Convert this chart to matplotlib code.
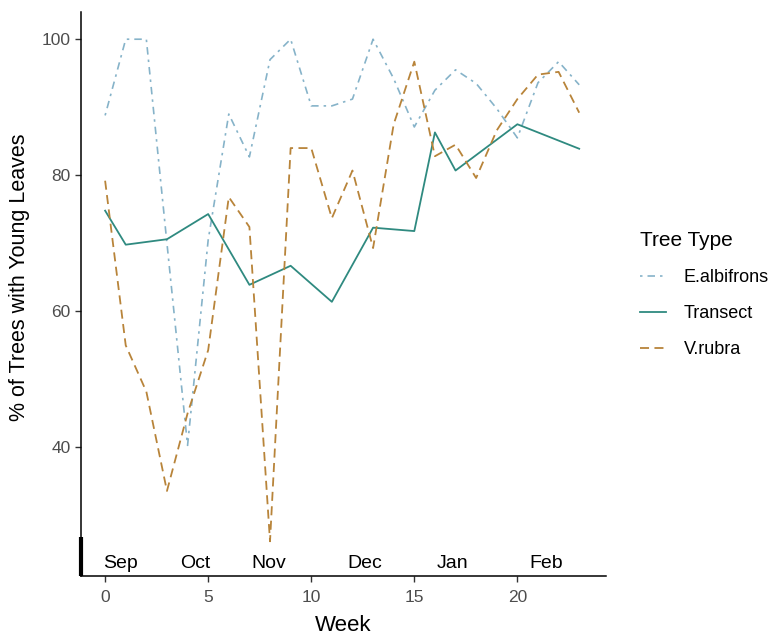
import matplotlib
matplotlib.use("Agg")
import matplotlib.pyplot as plt
from matplotlib.lines import Line2D

plt.rcParams['font.family'] = ['Liberation Sans', 'DejaVu Sans']

# E.albifrons, weekly
albi_weeks = list(range(24))
albi_vals = [88.8, 100, 100, 70, 40.3, 70.5, 89, 82.7, 97, 100, 90.2, 90.2, 91.2,
             100, 94.2, 87.1, 92.5, 95.5, 93.5, 89.8, 85.5, 93.6, 96.7, 93.3]

# Transect (sampled less often)
tran_weeks = [0, 1, 3, 5, 7, 9, 11, 13, 15, 16, 17, 20, 23]
tran_vals = [74.8, 69.8, 70.6, 74.3, 63.9, 66.7, 61.4, 72.3, 71.8, 86.3, 80.7, 87.5, 83.9]

# V.rubra, weekly
rub_weeks = list(range(24))
rub_vals = [79.2, 55.0, 48.2, 33.6, 45.0, 54.3, 76.8, 72.4, 26.2, 84.0, 84.0, 73.7,
            80.7, 69.3, 87.5, 96.7, 82.8, 84.5, 79.6, 86.6, 91.2, 94.8, 95.2, 89.2]

month_labels = ['Sep', 'Oct', 'Nov', 'Dec', 'Jan', 'Feb']
month_pos = [0.75, 4.35, 7.95, 12.6, 16.85, 21.4]

c_albi = '#86b3c9'
c_tran = '#2f8a80'
c_rub = '#b8843a'

fig = plt.figure(figsize=(7.79, 6.36), dpi=100)
ax = fig.add_axes([81 / 779, 60 / 636, (606 - 81) / 779, (576 - 12) / 636])

ax.plot(albi_weeks, albi_vals, color=c_albi, lw=1.2, dashes=(1.5, 3, 4.5, 3))
ax.plot(tran_weeks, tran_vals, color=c_tran, lw=1.3)
ax.plot(rub_weeks, rub_vals, color=c_rub, lw=1.3, dashes=(5, 3))

ax.set_xlim(-1.17, 24.3)
ax.set_ylim(21.1, 104)
ax.set_xticks([0, 5, 10, 15, 20])
ax.set_yticks([40, 60, 80, 100])

for s in ['top', 'right']:
    ax.spines[s].set_visible(False)
for s in ['left', 'bottom']:
    ax.spines[s].set_color('black')
    ax.spines[s].set_linewidth(1.1)
ax.tick_params(axis='both', colors='#333333', labelcolor='#4d4d4d',
               labelsize=12.5, length=4, width=1)
ax.tick_params(axis='x', pad=6)

# month labels along the bottom
for lab, xp in zip(month_labels, month_pos):
    ax.text(xp, 23.0, lab, ha='center', va='center', fontsize=14, color='black')

# thick mark at the foot of the y axis
ax.plot([-1.17, -1.17], [21.1, 26.9], color='black', lw=3, clip_on=False,
        solid_capstyle='butt')

ax.set_xlabel('Week', fontsize=16, labelpad=7)
ax.set_ylabel('% of Trees with Young Leaves', fontsize=15.5)
ax.yaxis.set_label_coords(-0.097, 0.53)

handles = [
    Line2D([], [], color=c_albi, lw=1.2, dashes=(1.5, 3, 4.5, 3)),
    Line2D([], [], color=c_tran, lw=1.3),
    Line2D([], [], color=c_rub, lw=1.3, dashes=(5, 3)),
]
leg = fig.legend(handles, ['E.albifrons', 'Transect', 'V.rubra'],
                 title='Tree Type', loc='upper left',
                 bbox_to_anchor=(624 / 779, 1 - 215 / 636),
                 frameon=False, fontsize=13, title_fontsize=15,
                 handlelength=1.4, handletextpad=1.0, labelspacing=1.05)
leg._legend_box.align = 'left'

fig.savefig('out.png', dpi=100)
